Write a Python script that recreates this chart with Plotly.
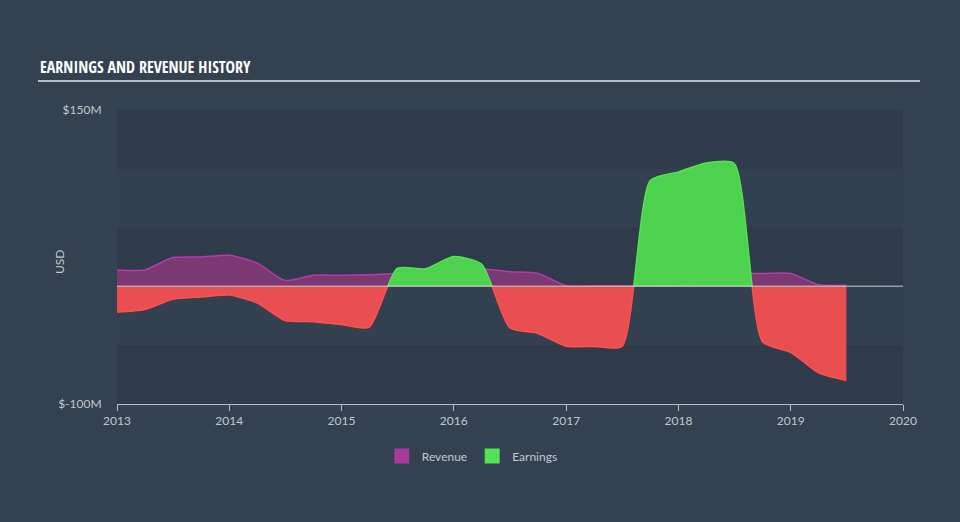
import plotly.graph_objects as go

# ---- data (USD millions), quarterly ----
dates = [
    "2013-01-01", "2013-04-01", "2013-07-01", "2013-10-01",
    "2014-01-01", "2014-04-01", "2014-07-01", "2014-10-01",
    "2015-01-01", "2015-04-01", "2015-07-01", "2015-10-01",
    "2016-01-01", "2016-04-01", "2016-07-01", "2016-10-01",
    "2017-01-01", "2017-04-01", "2017-07-01", "2017-10-01",
    "2018-01-01", "2018-04-01", "2018-07-01", "2018-10-01",
    "2019-01-01", "2019-04-01", "2019-07-01",
]
revenue = [
    14, 14, 24.5, 25,
    26.5, 20, 5, 9.5,
    9.5, 10, 11, 11,
    16, 15, 12.5, 11,
    0.5, 0.3, 0.3, 0.3,
    0.5, 11, 11, 11,
    11, 1.5, 1,
]
earnings = [
    -22, -19.7, -11, -9,
    -7.4, -14, -29, -30,
    -32.5, -34.8, 15.4, 15,
    25.4, 18.8, -35, -40,
    -51, -51, -51, 90,
    97.4, 105, 104.5, -47,
    -56, -73.5, -80,
]
x_ticks = ["2013", "2014", "2015", "2016", "2017", "2018", "2019", "2020"]
y_top_tick = [150]
y_top_text = ["$150M"]
y_bot_tick = [-100]
y_bot_text = ["$-100M"]

# ---- styles ----
PAPER = "#344150"
LIGHT = "#334050"
DARK = "#2f3b4a"
TXT = "#c3c8ce"
FONT = "Lato, Open Sans, sans-serif"
REV_FILL = "#7b3872"
REV_LINE = "#b23ea6"
RED = "#e94f51"

fig = go.Figure()

fig.add_trace(go.Scatter(
    x=dates, y=revenue, name="Revenue", mode="lines", showlegend=False,
    line=dict(color=REV_LINE, width=1.5, shape="spline", smoothing=0.6),
    fill="tozeroy", fillcolor=REV_FILL, xaxis="x", yaxis="y",
))
fig.add_trace(go.Scatter(
    x=dates, y=earnings, name="Earnings", mode="lines", showlegend=False,
    line=dict(color="#52e352", width=1.5, shape="spline", smoothing=0.6),
    fill="tozeroy", fillcolor="rgba(78,216,80,0.96)", xaxis="x", yaxis="y",
))
fig.add_trace(go.Scatter(
    x=dates, y=earnings, name="Earnings", mode="lines", showlegend=False,
    line=dict(color="#ff4f4f", width=1.5, shape="spline", smoothing=0.6),
    fill="tozeroy", fillcolor=RED, xaxis="x", yaxis="y2",
))
# legend entries (square swatches)
fig.add_trace(go.Scatter(
    x=[None], y=[None], name="Revenue", mode="markers",
    marker=dict(symbol="square", size=15, color="#a8399c"), xaxis="x", yaxis="y",
))
fig.add_trace(go.Scatter(
    x=[None], y=[None], name="Earnings", mode="markers",
    marker=dict(symbol="square", size=15, color="#52e352"), xaxis="x", yaxis="y",
))

shapes = [
    dict(type="rect", xref="paper", x0=0, x1=1, yref="y", y0=100, y1=150,
         fillcolor=DARK, line_width=0, layer="below"),
    dict(type="rect", xref="paper", x0=0, x1=1, yref="y", y0=0, y1=50,
         fillcolor=DARK, line_width=0, layer="below"),
    dict(type="rect", xref="paper", x0=0, x1=1, yref="y2", y0=-100, y1=-50,
         fillcolor=DARK, line_width=0, layer="below"),
    dict(type="line", xref="paper", x0=0, x1=1, yref="y", y0=0, y1=0,
         line=dict(color="#ffffff", width=1.5), layer="above"),
    dict(type="line", xref="paper", x0=-0.1005, x1=1.0216, y0=1.0986, y1=1.0986,
         yref="paper", line=dict(color="#b5bcc4", width=2)),
]

annotations = [
    dict(text="<b>EARNINGS AND REVENUE HISTORY</b>", xref="paper", yref="paper",
         x=-0.1005, y=1.146, xanchor="left", yanchor="middle", showarrow=False,
         font=dict(family="Open Sans Condensed, Roboto Condensed, sans-serif",
                   size=16, color="#ffffff")),
    dict(text="USD", xref="paper", yref="paper", x=-0.0725, y=0.483,
         xanchor="center", yanchor="middle", textangle=-90, showarrow=False,
         font=dict(family=FONT, size=12, color=TXT)),
]

fig.update_layout(
    width=960, height=522,
    margin=dict(l=117, r=57, t=110, b=118),
    paper_bgcolor=PAPER, plot_bgcolor=LIGHT,
    font=dict(family=FONT, size=12, color=TXT),
    showlegend=True,
    legend=dict(orientation="h", x=0.452, y=-0.177, xanchor="center", yanchor="middle",
                font=dict(family=FONT, size=12, color=TXT), bgcolor="rgba(0,0,0,0)",
                itemwidth=30),
    xaxis=dict(
        type="date", range=["2013-01-01", "2020-01-01"], anchor="y2",
        tickvals=[f"{y}-01-01" for y in x_ticks], ticktext=x_ticks,
        showgrid=False, zeroline=False, showline=True, linecolor="#b8bfc7", linewidth=1,
        ticks="outside", ticklen=6, tickcolor="#b8bfc7",
        tickfont=dict(family=FONT, size=12, color=TXT),
    ),
    yaxis=dict(
        domain=[0.4, 1], range=[0, 150], anchor="x",
        tickvals=y_top_tick, ticktext=y_top_text,
        showgrid=False, zeroline=False, showline=False,
        ticks="outside", ticklen=12, tickcolor="rgba(0,0,0,0)",
        tickfont=dict(family=FONT, size=12, color=TXT),
    ),
    yaxis2=dict(
        domain=[0, 0.4], range=[-100, 0], anchor="x",
        tickvals=y_bot_tick, ticktext=y_bot_text,
        showgrid=False, zeroline=False, showline=False,
        ticks="outside", ticklen=12, tickcolor="rgba(0,0,0,0)",
        tickfont=dict(family=FONT, size=12, color=TXT),
    ),
    shapes=shapes,
    annotations=annotations,
)

fig.write_html("out.html", config={"displayModeBar": False},
               post_script="document.body.style.margin='0';")
